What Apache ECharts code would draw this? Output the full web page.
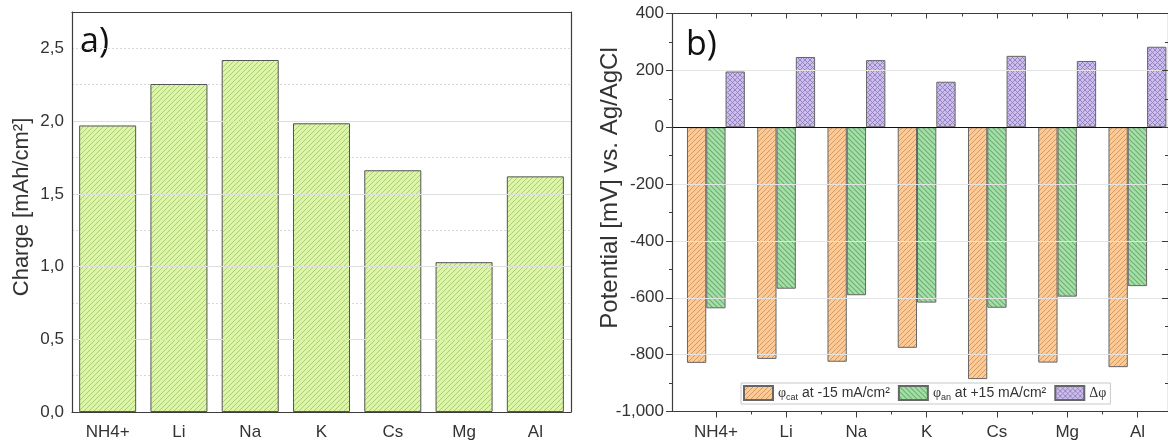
<!DOCTYPE html>
<html><head><meta charset="utf-8">
<script src="https://cdn.jsdelivr.net/npm/echarts@6/dist/echarts.min.js"></script>
<style>html,body{margin:0;padding:0;background:#fff}#c{width:1168px;height:441px}</style>
</head><body><div id="c"></div>
<script>
// ---- data ----
const categories = ['NH4+', 'Li', 'Na', 'K', 'Cs', 'Mg', 'Al'];
const chargeValues = [1.97, 2.255, 2.42, 1.985, 1.662, 1.03, 1.62];
const phiCat = [-829, -815, -825, -776, -886, -828, -844];
const phiAn = [-637, -568, -591, -617, -635, -596, -559];
const deltaPhi = [196, 247, 236, 160, 251, 233, 283];
const chargeTickLabels = [0, 0.5, 1.0, 1.5, 2.0, 2.5];
const potentialTickLabels = [-1000, -800, -600, -400, -200, 0, 200, 400];
const seriesNames = ['φcat at -15 mA/cm²', 'φan at +15 mA/cm²', 'Δφ'];
const legendRich = ['{g|φ}{sub|cat}{t| at -15 mA/cm²}', '{g|φ}{sub|an}{t| at +15 mA/cm²}', '{g|Δφ}'];

// ---- patterns ----
function hatch(bg, fg, mode, s, lw) {
  const c = document.createElement('canvas'); c.width = s; c.height = s;
  const g = c.getContext('2d'); g.fillStyle = bg; g.fillRect(0, 0, s, s);
  g.strokeStyle = fg; g.lineWidth = lw;
  if (mode === '/' || mode === 'x') {
    g.beginPath(); g.moveTo(-1, s + 1); g.lineTo(s + 1, -1);
    g.moveTo(-1, 1); g.lineTo(1, -1); g.moveTo(s - 1, s + 1); g.lineTo(s + 1, s - 1); g.stroke();
  }
  if (mode === '\\' || mode === 'x') {
    g.beginPath(); g.moveTo(-1, -1); g.lineTo(s + 1, s + 1);
    g.moveTo(s - 1, -1); g.lineTo(s + 1, 1); g.moveTo(-1, s - 1); g.lineTo(1, s + 1); g.stroke();
  }
  return { image: c, repeat: 'repeat' };
}
const pGreenA = hatch('#dcf5a6', '#a9cf78', '/', 5, 1);
const pOrange = hatch('#fdca95', '#d49a66', '/', 5, 1);
const pGreen = hatch('#a6e0a6', '#6aae77', '\\', 5, 1.1);
const pPurple = hatch('#cdbdec', '#8e7fc0', 'x', 5, 0.9);

const F = 'Liberation Sans';
const axisCol = '#3c3c3c';
const lblCol = '#333';
const idx = categories.map((c, i) => i);
const halfIdx = categories.slice(1).map((c, i) => i + 0.5);
const fmtComma = v => v.toFixed(1).replace('.', ',');

const chart = echarts.init(document.getElementById('c'));
const line = { show: true, onZero: false, lineStyle: { color: axisCol, width: 1.2 } };
const noLine = { show: false, onZero: false };
const tk = { color: axisCol, width: 1 };

const option = {
  animation: false,
  grid: [
    { left: 72, top: 12, width: 499, height: 400 },
    { left: 672, top: 13.5, width: 498, height: 398 }
  ],
  xAxis: [
    { gridIndex: 0, z: 5, type: 'category', data: categories, position: 'bottom', axisLine: line,
      axisTick: { alignWithLabel: true, length: 6, lineStyle: tk },
      axisLabel: { fontFamily: F, fontSize: 17, color: lblCol, margin: 12 } },
    { gridIndex: 0, z: 5, type: 'category', data: categories, position: 'bottom', axisLine: noLine,
      axisTick: { length: 3, lineStyle: tk }, axisLabel: { show: false } },
    { gridIndex: 0, z: 5, type: 'category', data: categories, position: 'top', axisLine: line,
      axisTick: { alignWithLabel: true, inside: true, length: 5, lineStyle: tk }, axisLabel: { show: false } },
    { gridIndex: 0, z: 5, type: 'category', data: categories, position: 'top', axisLine: noLine,
      axisTick: { inside: true, length: 3, lineStyle: tk }, axisLabel: { show: false } },
    { gridIndex: 1, z: 5, type: 'value', min: -0.625, max: 6.435, position: 'bottom', axisLine: line, splitLine: { show: false },
      axisTick: { customValues: idx, length: 6, lineStyle: tk },
      axisLabel: { customValues: idx, formatter: v => categories[Math.round(v)], fontFamily: F, fontSize: 17, color: lblCol, margin: 12 } },
    { gridIndex: 1, z: 5, type: 'value', min: -0.625, max: 6.435, position: 'bottom', axisLine: noLine, splitLine: { show: false },
      axisTick: { customValues: halfIdx, length: 3, lineStyle: tk }, axisLabel: { show: false } },
    { gridIndex: 1, z: 5, type: 'value', min: -0.625, max: 6.435, position: 'top', axisLine: line, splitLine: { show: false },
      axisTick: { customValues: idx, inside: true, length: 5, lineStyle: tk }, axisLabel: { show: false } },
    { gridIndex: 1, z: 5, type: 'value', min: -0.625, max: 6.435, position: 'top', axisLine: noLine, splitLine: { show: false },
      axisTick: { customValues: halfIdx, inside: true, length: 3, lineStyle: tk }, axisLabel: { show: false } }
  ],
  yAxis: [
    { gridIndex: 0, type: 'value', min: 0, max: 2.75, interval: 0.5, position: 'left', z: 4, axisLine: line,
      axisTick: { customValues: chargeTickLabels, length: 6, lineStyle: tk },
      axisLabel: { customValues: chargeTickLabels, formatter: fmtComma, fontFamily: F, fontSize: 17, color: lblCol, margin: 8 },
      splitLine: { show: true, showMinLine: false, showMaxLine: false, lineStyle: { color: '#dedede', width: 1 } } },
    { gridIndex: 0, type: 'value', min: 0, max: 2.75, interval: 0.25, position: 'left', z: 1, axisLine: noLine,
      axisTick: { length: 3, lineStyle: tk }, axisLabel: { show: false },
      splitLine: { show: true, showMinLine: false, showMaxLine: false, lineStyle: { color: '#d8d8d8', width: 1, type: [2, 2] } } },
    { gridIndex: 0, type: 'value', min: 0, max: 2.75, interval: 0.25, position: 'right', z: 5, axisLine: line,
      axisTick: { inside: true, length: 6, lineStyle: tk }, axisLabel: { show: false }, splitLine: { show: false } },
    { gridIndex: 1, type: 'value', min: -1000, max: 400, interval: 200, position: 'left', z: 5, axisLine: line,
      axisTick: { length: 6, lineStyle: tk },
      minorTick: { show: true, splitNumber: 2, length: 3, lineStyle: tk },
      axisLabel: { fontFamily: F, fontSize: 17, color: lblCol, margin: 8 },
      splitLine: { show: true, showMinLine: false, showMaxLine: false, lineStyle: { color: '#e4e4e4', width: 1 } } },
    { gridIndex: 1, type: 'value', min: -1000, max: 400, interval: 200, position: 'right', z: 5, axisLine: line,
      axisTick: { inside: true, length: 6, lineStyle: tk },
      minorTick: { show: true, splitNumber: 2, length: 3, lineStyle: tk },
      axisLabel: { show: false }, splitLine: { show: false } }
  ],
  legend: {
    data: seriesNames, left: 741, top: 383, icon: 'rect', itemWidth: 29, itemHeight: 14, itemGap: 8,
    borderColor: '#c8c8c8', borderWidth: 1, backgroundColor: '#fff', padding: [2, 4, 2, 2],
    formatter: name => legendRich[seriesNames.indexOf(name)],
    textStyle: { fontFamily: F, fontSize: 14, color: lblCol,
      rich: {
        g: { fontFamily: 'Liberation Serif', fontSize: 14, color: lblCol, lineHeight: 18 },
        sub: { fontFamily: F, fontSize: 9, color: lblCol, verticalAlign: 'bottom', lineHeight: 10 },
        t: { fontFamily: F, fontSize: 14, color: lblCol, lineHeight: 18 }
      } }
  },
  graphic: [
    { type: 'text', x: 80, y: 42, style: { text: 'a)', font: '34px "Open Sans"', fill: '#111', textVerticalAlign: 'middle', verticalAlign: 'middle' } },
    { type: 'text', x: 686, y: 45, style: { text: 'b)', font: '34px "Open Sans"', fill: '#111', textVerticalAlign: 'middle', verticalAlign: 'middle' } },
    { type: 'text', x: 22, y: 207, rotation: Math.PI / 2, style: { text: 'Charge [mAh/cm²]', font: '22px "Liberation Sans"', fill: lblCol, textAlign: 'center', align: 'center', textVerticalAlign: 'middle', verticalAlign: 'middle' } },
    { type: 'text', x: 610, y: 188, rotation: Math.PI / 2, style: { text: 'Potential [mV] vs. Ag/AgCl', font: '24px "Liberation Sans"', fill: lblCol, textAlign: 'center', align: 'center', textVerticalAlign: 'middle', verticalAlign: 'middle' } }
  ],
  series: [
    { type: 'bar', xAxisIndex: 0, yAxisIndex: 0, data: chargeValues, barCategoryGap: '20%',
      itemStyle: { color: pGreenA, borderColor: '#555', borderWidth: 1 } },
    { type: 'bar', name: seriesNames[0], xAxisIndex: 4, yAxisIndex: 3, barWidth: 19.3, barGap: '0%',
      data: phiCat.map((v, i) => [i, v]), itemStyle: { color: pOrange, borderColor: '#666', borderWidth: 1 },
      markLine: { silent: true, symbol: 'none', label: { show: false }, lineStyle: { color: '#111', width: 1.2, type: 'solid' }, data: [{ yAxis: 0 }] } },
    { type: 'bar', name: seriesNames[1], xAxisIndex: 4, yAxisIndex: 3, barWidth: 19.3, barGap: '0%',
      data: phiAn.map((v, i) => [i, v]), itemStyle: { color: pGreen, borderColor: '#666', borderWidth: 1 } },
    { type: 'bar', name: seriesNames[2], xAxisIndex: 4, yAxisIndex: 3, barWidth: 19.3, barGap: '0%',
      data: deltaPhi.map((v, i) => [i, v]), itemStyle: { color: pPurple, borderColor: '#666', borderWidth: 1 } }
  ]
};
chart.setOption(option);
</script>
</body></html>
